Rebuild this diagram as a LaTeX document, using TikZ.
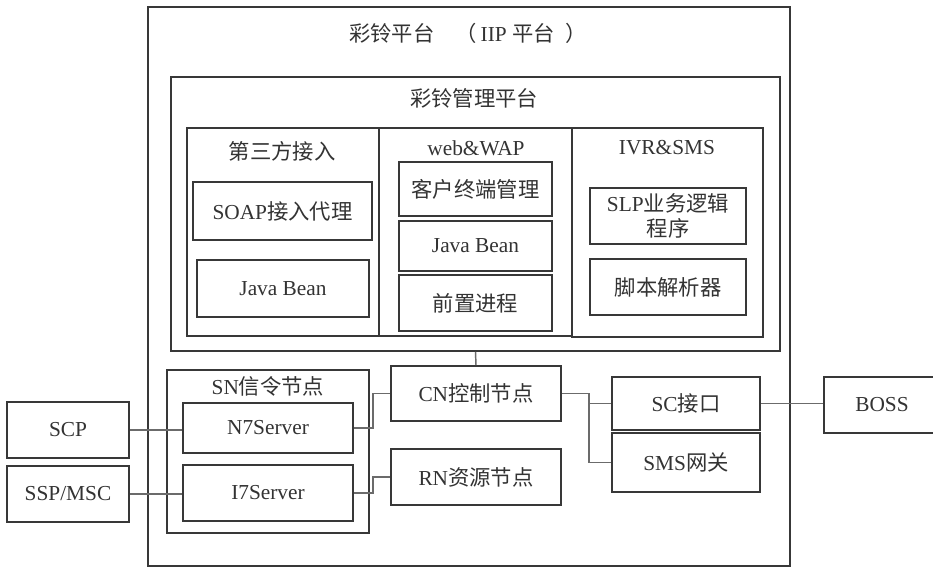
\documentclass[tikz,border=0pt]{standalone}
\usepackage{fontspec}
\setmainfont{Liberation Serif}
\newfontfamily\cjk{Noto Sans CJK SC}
\usetikzlibrary{calc}
\usetikzlibrary{fit}
\usetikzlibrary{positioning}

\newcommand{\zh}[1]{{\cjk #1}}
\colorlet{boxcol}{black!78}
\colorlet{linkcol}{black!58}
\colorlet{txtcol}{black!80}

\tikzset{
  blk/.style={draw=boxcol,line width=1.4pt,rectangle,inner sep=0pt},
  ttl/.style={text=txtcol,inner sep=1pt},
  every label/.style={text=txtcol,inner sep=1pt},
  link/.style={draw=linkcol,line width=1.1pt},
}

\begin{document}
\begin{tikzpicture}[x=0.75pt,y=-0.75pt,font=\fontsize{16}{19}\selectfont]

  \useasboundingbox [fill=white] (0,0) rectangle (933,568);

  % platforms
  \node [blk,fit={(148,7) (790,566)}] (iip) {};
  \node [ttl] (iiplab) at (468,33) {\zh{彩铃平台}\hspace{1em}\zh{（}\,IIP\ \zh{平台}\hspace{0.5em}\zh{）}};

  \node [blk,fit={(171,77) (780,351)}] (mgmt) {};
  \node [ttl] (mgmtlab) at (474,98) {\zh{彩铃管理平台}};

  \node [blk,fit={(187,128) (379,336)}] (third) {};
  \node [blk,fit={(379,128) (572,336)}] (web) {};
  \node [blk,fit={(572,128) (763,337)}] (ivr) {};
  \node [ttl] (thirdlab) at (282,151) {\zh{第三方接入}};
  \node [ttl] (weblab) at (476,148) {web\&WAP};
  \node [ttl] (ivrlab) at (667,148) {IVR\&SMS};

  \node [blk,fit={(193,182) (372,240)},label={center:SOAP\zh{接入代理}}] (soap) {};
  \node [blk,fit={(197,260) (369,317)},label={center:Java Bean}] (bean_a) {};

  \node [blk,fit={(399,162) (552,216)},label={center:\zh{客户终端管理}}] (term) {};
  \node [blk,fit={(399,221) (552,271)},label={center:Java Bean}] (bean_b) {};
  \node [blk,fit={(399,275) (552,331)},label={center:\zh{前置进程}}] (front) {};

  \node [blk,fit={(590,188) (746,244)},label={[align=center]center:SLP\zh{业务逻辑}\\\zh{程序}}] (slp) {};
  \node [blk,fit={(590,259) (746,315)},label={center:\zh{脚本解析器}}] (script) {};

  % nodes
  \node [blk,fit={(167,370) (369,533)}] (sn) {};
  \node [ttl] (snlab) at (268,386) {SN\zh{信令节点}};
  \node [blk,fit={(183,403) (353,453)},label={center:N7Server}] (n7) {};
  \node [blk,fit={(183,465) (353,521)},label={center:I7Server}] (i7) {};

  \node [blk,fit={(391,366) (561,421)},label={center:CN\zh{控制节点}}] (cn) {};
  \node [blk,fit={(391,449) (561,505)},label={center:RN\zh{资源节点}}] (rn) {};

  \node [blk,fit={(612,377) (760,430)},label={center:SC\zh{接口}}] (sc) {};
  \node [blk,fit={(612,433) (760,492)},label={center:SMS\zh{网关}}] (sms) {};

  \node [blk,fit={(824,377) (940,433)},label={center:BOSS}] (boss) {};
  \node [blk,fit={(7,402) (129,458)},label={center:SCP}] (scp) {};
  \node [blk,fit={(7,466) (129,522)},label={center:SSP/MSC}] (ssp) {};

  \draw [link] (mgmt.south) -- (cn.north);
  \draw [link] (scp.east) -- (scp.east -| n7.west);
  \draw [link] (ssp.east) -- (ssp.east -| i7.west);
  \draw [link] (n7.east) -- ++(19,0) |- (cn.west);
  \draw [link] (i7.east) -- ++(19,0) |- (rn.west);
  \draw [link] (cn.east) -- ++(27,0) coordinate (cnout) |- (sms.west);
  \draw [link] (cnout |- sc.west) -- (sc.west);
  \draw [link] (sc.east) -- (sc.east -| boss.west);

\end{tikzpicture}
\end{document}
